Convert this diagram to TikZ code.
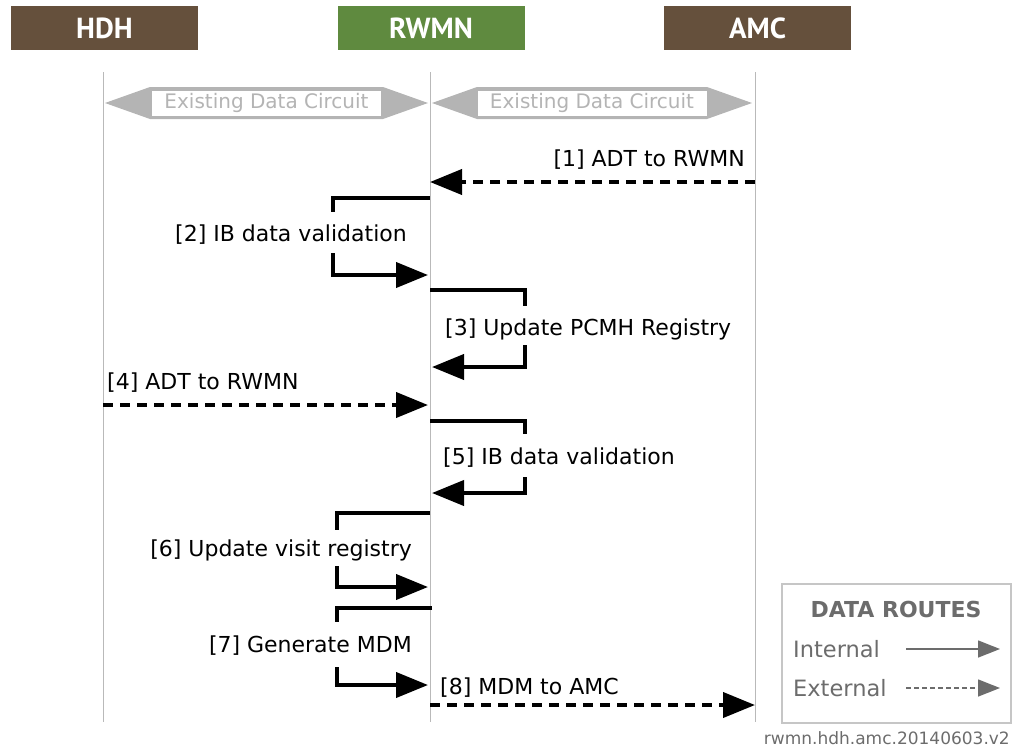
\documentclass[tikz,border=0pt]{standalone}
\usepackage{fontspec}
\setmainfont{DejaVu Sans}
\newfontfamily\headfont{PT Sans}
\usetikzlibrary{arrows.meta,positioning}
\definecolor{hdrbrown}{HTML}{65503C}
\definecolor{hdrgreen}{HTML}{5F8A3F}
\definecolor{circgray}{HTML}{B4B4B4}
\definecolor{leggray}{HTML}{6C6C6C}
\begin{document}
\begin{tikzpicture}[x=1pt, y=-1pt,
  header/.style={rectangle, fill=hdrbrown, text=white, font=\headfont\bfseries\fontsize{29}{31}\selectfont, minimum width=187pt, minimum height=44pt, inner sep=0pt},
  life/.style={draw=gray!55, line width=0.9pt},
  circbox/.style={rectangle, fill=white, draw=circgray, line width=2pt, text=circgray, font=\fontsize{20}{22}\selectfont, minimum width=231pt, minimum height=27pt, inner sep=0pt},
  msg/.style={font=\fontsize{22}{24}\selectfont, inner sep=0pt},
  seg/.style={line width=4pt},
  int/.style={seg, -{Triangle[length=32pt, width=25pt]}},
  ext/.style={int, dash pattern=on 10pt off 7pt},
  legtxt/.style={text=leggray, font=\fontsize{22.5}{24}\selectfont, inner sep=0pt},
  legarr/.style={draw=leggray, line width=1.5pt, -{Triangle[length=22pt, width=17pt]}}
]
\useasboundingbox (0,0) rectangle (1012,750);

\node[header] (hdh) at (104.5,28) {HDH};
\node[header, fill=hdrgreen] (rwmn) at (431,28) {RWMN};
\node[header] (amc) at (757.5,28) {AMC};

\coordinate (h0) at (103,72); \coordinate (h1) at (103,722);
\coordinate (r0) at (430,72); \coordinate (r1) at (430,722);
\coordinate (a0) at (755,72); \coordinate (a1) at (755,722);
\draw[life] (h0) -- (h1);
\draw[life] (r0) -- (r1);
\draw[life] (a0) -- (a1);

\foreach \l/\r/\n in {105/428/circ1, 432/752/circ2} {
  \fill[circgray] (\l,103) -- (\l+45,87) -- (\r-45,87) -- (\r,103) -- (\r-45,119) -- (\l+45,119) -- cycle;
  \node[circbox] (\n) at ({(\l+\r)/2},103) {Existing Data Circuit};
}

% [1]
\coordinate (m1a) at (755,182); \coordinate (m1r) at (430,182);
\draw[ext] (m1a) -- (m1r);
\node[msg, anchor=base east] (l1) at (745,166) {[1] ADT to RWMN};
% [2]
\coordinate (m2a) at (430,198); \coordinate (m2b) at (428,275);
\draw[seg] (m2a) -- (333,198) -- (333,212);
\draw[int] (333,253) -- (333,275) -- (m2b);
\node[msg, anchor=base east] (l2) at (407,241) {[2] IB data validation};
% [3]
\coordinate (m3a) at (430,290); \coordinate (m3b) at (432,367);
\draw[seg] (m3a) -- (525,290) -- (525,306);
\draw[int] (525,345) -- (525,367) -- (m3b);
\node[msg, anchor=base west] (l3) at (445,335) {[3] Update PCMH Registry};
% [4]
\coordinate (m4h) at (103,405); \coordinate (m4r) at (428,405);
\draw[ext] (m4h) -- (m4r);
\node[msg, anchor=base west] (l4) at (107,389) {[4] ADT to RWMN};
% [5]
\coordinate (m5a) at (430,421); \coordinate (m5b) at (432,493);
\draw[seg] (m5a) -- (525,421) -- (525,434);
\draw[int] (525,477) -- (525,493) -- (m5b);
\node[msg, anchor=base west] (l5) at (443,464) {[5] IB data validation};
% [6]
\coordinate (m6a) at (430,513); \coordinate (m6b) at (428,587);
\draw[seg] (m6a) -- (337,513) -- (337,530);
\draw[int] (337,566) -- (337,587) -- (m6b);
\node[msg, anchor=base east] (l6) at (412,556) {[6] Update visit registry};
% [7]
\coordinate (m7a) at (432,608); \coordinate (m7b) at (428,685);
\draw[seg] (m7a) -- (337,608) -- (337,622);
\draw[int] (337,667) -- (337,685) -- (m7b);
\node[msg, anchor=base east] (l7) at (412,652) {[7] Generate MDM};
% [8]
\coordinate (m8r) at (430,705); \coordinate (m8a) at (755,705);
\draw[ext] (m8r) -- (m8a);
\node[msg, anchor=base west] (l8) at (440,694) {[8] MDM to AMC};

% legend
\draw[draw=gray!45, line width=1.5pt] (782,584) rectangle (1011,723);
\node[legtxt, font=\bfseries\fontsize{22}{24}\selectfont] (legtitle) at (896,609) {DATA ROUTES};
\node[legtxt, anchor=west] (legint) at (793,649) {Internal};
\node[legtxt, anchor=west] (legext) at (793,688) {External};
\coordinate (li0) at (906,649); \coordinate (li1) at (1000,649);
\coordinate (le0) at (906,688); \coordinate (le1) at (1000,688);
\draw[legarr] (li0) -- (li1);
\draw[legarr, dash pattern=on 5pt off 3pt] (le0) -- (le1);

\node[legtxt, anchor=base east, font=\fontsize{17}{19}\selectfont] (version) at (1010,744) {rwmn.hdh.amc.20140603.v2};
\end{tikzpicture}
\end{document}
